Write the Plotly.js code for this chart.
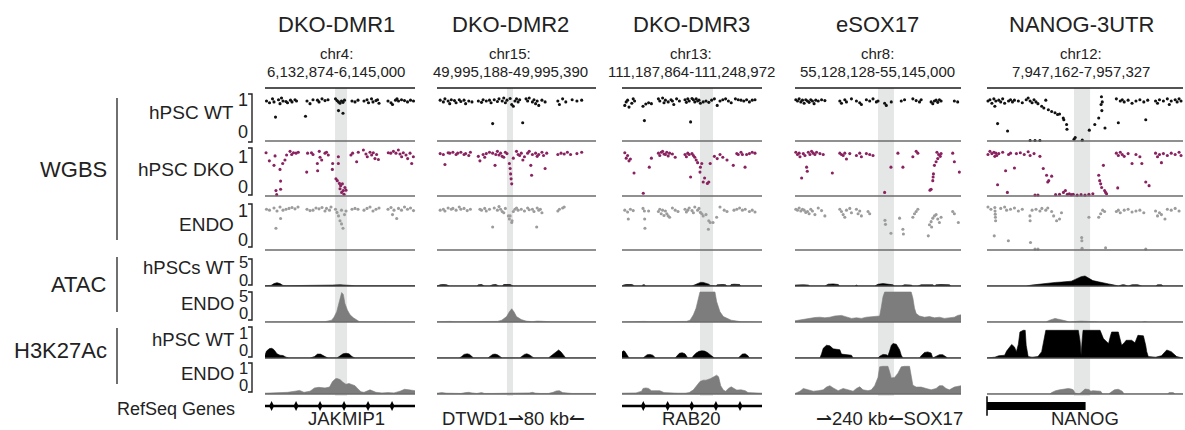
<!DOCTYPE html>
<html><head><meta charset="utf-8">
<script src="https://cdn.plot.ly/plotly-3.0.1.min.js"></script>
<style>html,body{margin:0;padding:0;background:#fff}</style>
</head><body><div id="chart" style="width:1185px;height:430px"></div>
<script>
// ---------- text ----------
const regions = ['DKO-DMR1','DKO-DMR2','DKO-DMR3','eSOX17','NANOG-3UTR'];
const chroms = ['chr4:','chr15:','chr13:','chr8:','chr12:'];
const coords = ['6,132,874-6,145,000','49,995,188-49,995,390','111,187,864-111,248,972','55,128,128-55,145,000','7,947,162-7,957,327'];
const geneNames = ['JAKMIP1','DTWD1\u21C080 kb\u21BC','RAB20','\u21C0240 kb\u21BCSOX17','NANOG'];
const trackLabels = ['hPSC WT','hPSC DKO','ENDO','hPSCs WT','ENDO','hPSC WT','ENDO'];
const groupLabels = ['WGBS','ATAC','H3K27Ac'];
const wgbsTicks = ['0','1'];
const atacTicks = ['0','5'];
const h3Ticks = ['0','1'];
// highlighted region (% of window)
const bandStart = [46.7,44,55.7,50,44.4];
const bandEnd = [54.7,47.8,65,59.6,52.6];

// ---------- WGBS methylation (x %, beta) ----------
const wt1 = [[1,0.9],[3,0.86],[5,0.95],[6,0.88],[9,0.93],[10,0.84],[11,0.97],[12,0.9],[14,0.89],[15,0.86],[17,0.92],[18,0.88],[20,0.93],[21,0.9],[7,0.53],[28,0.9],[30,0.84],[27,0.55],[32,0.93],[35,0.92],[36,0.88],[38,0.95],[40,0.91],[42,0.93],[47,0.95],[48,0.91],[49,0.88],[50,0.85],[51,0.9],[52,0.87],[53,0.92],[49,0.68],[52,0.62],[58,0.9],[60,0.88],[62,0.92],[66,0.9],[68,0.93],[69,0.86],[71,0.95],[72,0.88],[74,0.91],[75,0.93],[76,0.85],[82,0.9],[84,0.86],[85,0.82],[87,0.92],[88,0.95],[89,0.9],[91,0.93],[93,0.91],[95,0.88],[97,0.92],[99,0.9]];
const dko1 = [[0.7,0.94],[2.9,0.76],[6.7,0.87],[6,0.66],[10,0.57],[11.8,0.7],[10.4,0.31],[7.3,0.1],[10.4,0.13],[7.8,0.01],[13.3,0.78],[14.4,0.89],[16.7,0.97],[17.8,0.9],[19,0.94],[20.7,0.93],[22.2,0.95],[27.8,0.51],[28.4,0.93],[31,0.94],[32,0.9],[34.9,0.7],[35.1,0.54],[36.2,0.97],[36.7,0.84],[37.8,0.78],[40,0.93],[41,0.95],[42.2,0.89],[45.1,0.7],[44.9,0.57],[48.9,0.85],[48.9,0.7],[47.3,0.36],[48.2,0.32],[49.6,0.26],[50.4,0.21],[51.6,0.25],[50,0.14],[52.2,0.1],[53.3,0.17],[54,0.11],[51.1,0.06],[52.7,0.02],[57.3,0.89],[58.4,0.93],[61.1,0.74],[62.2,0.95],[65.6,1.0],[67.3,0.91],[68.2,0.85],[70,0.95],[71.1,0.89],[72.2,0.94],[73.3,0.81],[74.4,0.9],[75.6,0.79],[82.2,0.94],[83.8,0.93],[85.6,0.97],[87.3,0.93],[88.9,1.0],[90,0.91],[91.1,0.85],[92.2,0.94],[94,0.89],[95.1,0.81],[96.7,0.93],[97.8,0.7],[98.9,0.85]];
const endo1 = [[1,0.9],[3,0.88],[6,0.93],[8,0.86],[10,0.95],[12,0.88],[14,0.9],[16,0.92],[18,0.94],[20,0.91],[22,0.95],[7.3,0.47],[10.4,0.69],[28,0.9],[30,0.87],[32,0.88],[34,0.93],[36,0.91],[38,0.94],[40,0.86],[41,0.92],[43,0.88],[44,0.95],[47,0.9],[48,0.83],[49,0.75],[50,0.64],[51,0.57],[52,0.47],[53,0.78],[54,0.86],[51,0.88],[58,0.9],[60,0.92],[62,0.9],[66,0.88],[68,0.92],[70,0.95],[72,0.86],[74,0.9],[76,0.93],[82,0.9],[84,0.94],[85,0.78],[86,0.88],[87.8,0.69],[89,0.92],[91,0.88],[93,0.95],[95,0.9],[97,0.93],[99,0.87]];

const wt2 = [[2,0.92],[4,0.88],[5,0.95],[7,0.9],[8,0.84],[9,0.93],[11,0.91],[12,0.86],[14,0.93],[15,0.89],[17,0.92],[18,0.84],[20,0.9],[22,0.88],[26,0.9],[28,0.87],[29,0.93],[31,0.9],[33,0.92],[34,0.86],[35,0.38],[36,0.93],[38,0.89],[39,0.95],[41,0.9],[42,0.97],[43,0.86],[44,0.92],[46,0.96],[47,0.82],[48,0.78],[49,0.9],[50,0.95],[51,0.88],[52,0.93],[53.9,0.4],[56,0.95],[57,0.9],[58,0.97],[60,0.88],[61,0.93],[62,0.84],[63,0.9],[64,0.8],[66,0.92],[68,0.88],[76,0.9],[77,0.82],[79,0.95],[81,0.88],[85,0.93],[88,0.9],[91,0.92]];
const dko2 = [[2,0.92],[4,0.9],[5,0.68],[7,0.94],[8,0.93],[10,0.95],[12,0.9],[13,0.93],[15,0.95],[17,0.9],[18,0.92],[20,0.88],[21,0.95],[26,0.86],[27,0.76],[29,0.9],[30,0.84],[31,0.92],[33,0.95],[35,0.93],[36.5,0.66],[37,0.9],[38,0.97],[39,0.89],[40,0.93],[41,0.86],[42,0.84],[43,0.95],[44,0.92],[45.5,0.7],[46,0.59],[46.3,0.47],[46.6,0.36],[47,0.25],[48,0.82],[50,0.97],[51,0.9],[52,0.88],[53,0.93],[54,0.78],[55,0.85],[57,0.93],[58,0.97],[59,0.66],[59.5,0.44],[60,0.9],[62,0.93],[63,0.86],[64,0.9],[66,0.95],[67,0.88],[68,0.59],[69,0.93],[76,0.9],[78,0.93],[80,0.91],[82,0.95],[84,0.9],[88,0.92],[91,0.95]];
const endo2 = [[2,0.88],[4,0.9],[5,0.86],[7,0.93],[9,0.9],[10,0.92],[12,0.88],[14,0.95],[15,0.9],[17,0.92],[19,0.87],[21,0.9],[27,0.9],[28,0.88],[30,0.92],[31,0.86],[33,0.9],[35,0.5],[36,0.93],[38,0.88],[39,0.96],[40,0.9],[41,0.85],[42,0.82],[43,0.92],[44.9,0.75],[45.5,0.68],[46,0.75],[47,0.6],[47.2,0.64],[48,0.85],[49,0.9],[50,0.93],[51,0.88],[53,0.9],[55,0.86],[57,0.93],[58,0.89],[60,0.9],[61,0.85],[62.7,0.5],[63,0.93],[64,0.88],[65,0.9],[66,0.82],[76,0.86],[77,0.9],[79,0.93],[80,0.95]];

const wt3 = [[2,0.8],[3,0.88],[4,0.92],[5,0.76],[7,0.85],[8,0.95],[9,0.9],[15,0.78],[16,0.45],[17,0.83],[19,0.86],[21,0.84],[26,0.95],[27,0.9],[29,0.97],[30,0.86],[31,0.92],[33,0.88],[35,0.93],[36,0.9],[37,0.82],[39,0.95],[41,0.9],[45,0.93],[46,0.87],[47,0.95],[48,0.9],[49,0.42],[50,0.96],[51,0.93],[52,0.88],[53,0.95],[54,0.9],[55,0.92],[56,0.85],[58,0.88],[60,0.9],[62,0.87],[64,0.92],[66,0.95],[68,0.8],[70,0.9],[72,0.93],[74,0.95],[76,0.9],[78,0.86],[81,0.95],[83,0.93],[85,0.92],[87,0.9],[89,0.93],[91,0.88],[93,0.92],[95,0.93]];
const dko3 = [[2,0.94],[3,0.82],[4,0.88],[5,0.76],[6,0.8],[8.6,0.49],[15.2,0.04],[19.5,0.62],[21,0.82],[26,0.93],[27,0.88],[28,0.95],[29,0.97],[30,0.91],[31,0.9],[32,0.95],[33,0.87],[34,0.93],[36,0.91],[38,0.84],[45,0.9],[46,0.85],[47,0.93],[48,0.9],[49,0.4],[50,0.92],[51,0.88],[52,0.84],[53,0.78],[54,0.72],[55.7,0.51],[56,0.62],[57,0.7],[58,0.29],[59,0.38],[61,0.26],[62,0.29],[63,0.7],[66,0.86],[68,0.81],[70,0.9],[72,0.84],[75,0.78],[79.5,0.66],[82,0.92],[83,0.9],[85,0.95],[86,0.9],[87.9,0.62],[89,0.9],[91,0.92],[93,0.95],[95,0.93]];
const endo3 = [[2,0.88],[4,0.84],[4.5,0.68],[6,0.9],[8,0.87],[15,0.92],[16,0.86],[16.2,0.68],[16.4,0.47],[19,0.86],[26,0.85],[27,0.9],[28,0.8],[29,0.88],[30,0.76],[31,0.86],[32,0.8],[33,0.75],[34,0.72],[36,0.93],[38,0.88],[40,0.85],[45,0.9],[46,0.84],[47,0.88],[48,0.93],[50,0.87],[51,0.82],[52,0.95],[54,0.88],[55,0.92],[56,0.83],[57,0.8],[58,0.75],[60,0.78],[61.7,0.45],[62,0.64],[63,0.6],[65,0.6],[67.6,0.72],[70,0.95],[73,0.88],[75,0.85],[80,0.88],[82,0.9],[84,0.93],[86,0.88],[88,0.9],[91,0.85],[93,0.88],[95,0.84]];

const wt4 = [[0.5,0.93],[1.5,0.9],[2.5,0.95],[3.5,0.88],[4.5,0.92],[5.5,0.85],[6.5,0.93],[7.5,0.9],[8.5,0.87],[9.5,0.93],[10.5,0.9],[11.5,0.84],[12.5,0.92],[14,0.9],[16,0.93],[18,0.91],[27,0.9],[28,0.85],[30,0.93],[31,0.88],[34,0.95],[37,0.9],[39,0.86],[40,0.82],[43,0.93],[45,0.9],[47,0.95],[49,0.88],[50,0.9],[54,0.85],[55,0.8],[58,0.88],[64,0.9],[66,0.93],[71,0.95],[73,0.91],[75,0.88],[76,0.93],[82,0.88],[83,0.84],[84,0.9],[85,0.92],[86,0.87],[87,0.93],[88,0.9],[96,0.9],[98,0.88]];
const dko4 = [[0.5,0.95],[1.5,0.9],[2.5,0.93],[3,0.85],[4,0.38],[5,0.92],[6,0.88],[7,0.62],[7.4,0.53],[8,0.95],[9,0.9],[10,0.97],[11,0.93],[12,0.9],[13,0.95],[15,0.92],[17,0.9],[22.5,0.49],[27,0.93],[28,0.9],[29,0.88],[30,0.93],[31,0.8],[33,0.92],[37,0.88],[39,0.93],[40,0.85],[43,0.92],[45,0.9],[47,0.88],[54,0.06],[57.8,0.62],[62,0.93],[65,0.62],[71,0.85],[73,0.97],[74,0.93],[81.3,0.11],[82,0.13],[83,0.32],[83.2,0.4],[83.4,0.47],[84,0.66],[85,0.74],[86,0.81],[85.5,0.95],[86.5,0.9],[87.5,0.86],[88,0.92],[95,0.93],[96,0.74],[99,0.51]];
const endo4 = [[0.5,0.9],[1.5,0.88],[2.5,0.93],[3.5,0.86],[4.5,0.9],[5.5,0.88],[6.5,0.83],[7.5,0.85],[8.5,0.8],[9.5,0.9],[10.5,0.86],[12,0.78],[14,0.93],[16,0.87],[18,0.75],[27,0.9],[28,0.85],[29,0.78],[30,0.72],[31,0.88],[33,0.92],[34,0.82],[37,0.9],[38,0.8],[39,0.86],[40,0.75],[44,0.85],[45,0.8],[54.2,0.65],[54.5,0.56],[57.8,0.36],[63,0.7],[65,0.45],[65.3,0.34],[71,0.72],[72,0.8],[73,0.85],[74,0.9],[80.3,0.3],[81,0.55],[82,0.62],[82.3,0.5],[83,0.7],[84,0.75],[85,0.78],[86,0.68],[87,0.6],[88,0.72],[95,0.85],[96,0.8],[98.4,0.6]];

const wt5 = [[0.5,0.9],[1.5,0.93],[2.5,0.85],[3.5,0.95],[4,0.78],[4.5,0.9],[5.4,0.38],[6,0.92],[7,0.88],[8,0.95],[9,0.85],[10.5,0.21],[11,0.9],[12,0.93],[13,0.88],[14,0.92],[16,0.9],[18,0.86],[20,0.93],[21,0.97],[22,0.9],[23,0.86],[24,0.93],[25,0.88],[26,0.84],[27.9,0.78],[29,0.74],[30,0.92],[31.3,0.7],[33,0.66],[34.7,0.63],[36,0.59],[37,0.6],[38.9,0.51],[39.2,0.47],[40.6,0.36],[40.8,0.25],[22,-0.01],[24.5,-0.01],[27,-0.01],[44.4,0.02],[45,0.06],[48.6,0],[52.2,0.23],[55,0.36],[57,0.51],[58.2,0.82],[58.4,1.0],[58.6,0.68],[58.8,0.88],[60.2,0.28],[66,0.95],[67,0.4],[68,0.9],[69,0.93],[70,0.88],[72,0.92],[74,0.85],[76,0.9],[78,0.93],[80,0.88],[81,0.47],[82,0.92],[86,0.9],[87,0.85],[88,0.93],[90,0.9],[92,0.95],[93,0.82],[94,0.9],[96,0.93],[97,0.88],[98,0.95],[99,0.9]];
const dko5 = [[0.5,0.9],[1.5,0.97],[2.5,0.92],[3.5,0.95],[4,0.86],[4.5,0.93],[5,0.88],[5.4,0.23],[6,0.92],[8,0.95],[9.5,0.54],[10.4,0.06],[11,0.9],[12,0.93],[14,0.6],[15,0.92],[17,0.94],[19,0.9],[21,0.96],[22,0.88],[24,0.92],[24.5,0.0],[26,0.0],[27,0.86],[28.7,0.59],[30.4,0.44],[31,0.29],[31.5,0.32],[33,0.42],[35,0.01],[37,0.02],[39,0.06],[40,0.1],[41,0.02],[42,0.03],[43,0.01],[44,0.02],[46,0.0],[48,0.01],[50,0.0],[52,0.02],[54,0.03],[57,0.44],[57.5,0.32],[58,0.25],[58.5,0.17],[59.4,0.66],[60,0.1],[60.5,0.06],[61,0.03],[66,0.93],[66.7,0.16],[67,0.88],[68,0.95],[69,0.9],[70,0.86],[72,0.92],[74,0.7],[76,0.9],[78,0.85],[79,0.7],[81,0.29],[82.7,0.21],[86,0.93],[87,0.85],[88,0.9],[89,0.72],[90,0.92],[92,0.88],[94,0.93],[96,0.9],[98,0.95],[99,0.88]];
const endo5 = [[0.5,0.95],[2,0.9],[4,0.94],[4.1,0.86],[4.2,0.79],[4.3,0.72],[4.4,0.64],[3.7,0.3],[7,0.92],[9,0.95],[10,0.88],[10.9,0.19],[12,0.9],[14,0.93],[16,0.86],[18,0.9],[21.9,0.75],[22,0.64],[22.2,0.15],[23,0.88],[24.5,0],[26,0],[25,0.9],[27,0.86],[28,0.92],[30,0.88],[31,0.93],[33,0.85],[34,0.75],[35.5,0.64],[37,0.68],[38,0.82],[48.3,0.26],[48.4,0.19],[48.5,0.02],[52,0.72],[57,0.72],[58,0.8],[59,0.88],[60,0.85],[60.5,0.03],[66,0.85],[67,0.88],[68,0.82],[70,0.88],[72,0.9],[74,0.84],[76,0.86],[78,0.88],[80,0.82],[81,0],[86,0.86],[87,0.75],[88,0.82],[89,0.78],[90.8,0.68],[92,0.9],[94,0.88],[96,0.92],[98,0.86]];

// ---------- ATAC hPSC WT ----------
const atacWT_x1 = [0,4,6,8,10,12,14,20,40,45,50,55,60,100];
const atacWT_y1 = [0.05,0.1,0.4,0.55,0.4,0.1,0.05,0.05,0.05,0.15,0.2,0.15,0.05,0.05];
const atacWT_x2 = [0,2,4,6,8,25,26,28,30,33,35,37,39,41,42,44,46,48,50,100];
const atacWT_y2 = [0,0.2,0.25,0.2,0,0,0.2,0.25,0,0,0.2,0.25,0,0,0.25,0.3,0.25,0,0,0];
const atacWT_x3 = [0,1,3,5,7,8,9,14,15,16,17,50,52,54,56,58,60,62,63,65,67,68,70,72,74,75,77,78,80,82,84,85,87,100];
const atacWT_y3 = [0,0.15,0.25,0.3,0.25,0.15,0,0,0.2,0.2,0,0,0.2,0.45,0.6,0.6,0.5,0.3,0.1,0,0,0.2,0.25,0.25,0.2,0,0,0.25,0.3,0.3,0.25,0,0,0];
const atacWT_x4 = [0,2,5,8,9,18,20,23,26,27,36,37,38,48,50,53,56,59,60,64,66,68,70,71,74,76,80,83,84,85,88,91,93,94,100];
const atacWT_y4 = [0.15,0.2,0.2,0.15,0,0,0.3,0.35,0.25,0,0,0.15,0,0,0.3,0.4,0.35,0.2,0,0,0.2,0.2,0.15,0,0,0.2,0.25,0.2,0,0.2,0.25,0.25,0.2,0,0];
const atacWT_x5 = [0,20,22.8,25,27.9,30,33,35,38,40,43,45,46.6,48,50,51,52.6,54,56.8,59,62,65,67,69,70,72,74,76,77,79,86,87,89,90,100];
const atacWT_y5 = [0,0,0.15,0.25,0.3,0.4,0.55,0.6,0.65,0.7,0.8,1.1,1.4,1.55,1.67,1.5,1.1,0.9,0.7,0.5,0.35,0.15,0,0.2,0.2,0,0.2,0.22,0.2,0,0,0.2,0.2,0,0];
// ---------- ATAC ENDO ----------
const atacEN_x1 = [0,40,44.4,46,47.8,49,50,51.1,52.2,53.3,54.9,56.7,58.9,61.1,63,100];
const atacEN_y1 = [0.02,0.05,0.3,0.8,1.7,3,4.2,4.9,4.6,3.1,2,1.2,0.7,0.3,0.05,0.02];
const atacEN_x2 = [0,5,8,12,20,30,38,40.7,43.8,45.5,47,48.4,50,53,56,60,63,66,69,72,100];
const atacEN_y2 = [0.05,0.15,0.1,0.05,0.1,0.05,0.1,0.3,0.9,1.7,2.2,1.7,0.9,0.4,0.15,0.05,0.15,0.12,0.1,0.03,0.02];
const atacEN_x3 = [0,4,6,8,12,14,16,20,30,40,46,48.6,51,52.9,54.5,55.7,60,66.4,67.6,70,72.4,74.8,78,82,85,100];
const atacEN_y3 = [0.02,0.05,0.1,0.05,0.15,0.2,0.1,0.05,0.03,0.05,0.1,0.3,1.2,2.3,3.9,5,5,5,3.4,1.7,0.9,0.6,0.3,0.15,0.05,0.02];
const atacEN_x4 = [0,3,6,9,12,15,18,21,24,28,31,34,37,40,43,46,49,51,52,53,54,58,62,66,70,71,72,73,75,78,81,84,87,90,93,96,98,100];
const atacEN_y4 = [0.2,0.35,0.5,0.6,0.75,0.8,0.7,0.8,1.0,1.1,0.8,0.6,0.7,0.6,0.8,0.9,0.9,1.0,2.5,4.2,5,5,5,5,5,4,2.3,1.4,1.0,0.8,0.9,0.7,0.8,0.6,0.7,0.8,1.1,1.2];
const atacEN_x5 = [0,30,32,34.7,36,38,40,42,45,48,50,52.6,54,56,58,79,80.6,82,100];
const atacEN_y5 = [0,0,0.3,0.6,0.5,0.4,0.2,0,0.1,0.15,0.12,0.1,0.15,0.1,0,0,0.1,0,0];
// ---------- H3K27Ac hPSC WT ----------
const h3WT_x1 = [0,1,3,4.5,6,8,10,12,14,16,30,33,35,37,40,42,48,50,52,54,56,58,60,100];
const h3WT_y1 = [0.1,0.25,0.34,0.35,0.3,0.15,0.1,0.09,0.03,0,0,0.05,0.14,0.14,0.05,0,0,0.06,0.15,0.17,0.15,0.05,0,0];
const h3WT_x2 = [0,14,15.5,17,19,20.5,22,23,32,33,35,36.5,38,40,41,52,53,55,56.5,58,60,61,70,71,73,75,76.5,78,80,81,100];
const h3WT_y2 = [0,0,0.05,0.13,0.15,0.13,0.05,0,0,0.05,0.13,0.14,0.12,0.04,0,0,0.05,0.13,0.15,0.12,0.04,0,0,0.05,0.15,0.25,0.29,0.22,0.08,0,0];
const h3WT_x3 = [0,1,2,3,4,5,15,16,18,20,22,24,38,39,41,43,45,47,50,51,53,55,57,59,61,63,65,66,83,84,86,88,90,91,100];
const h3WT_y3 = [0.22,0.26,0.24,0.15,0.05,0,0,0.05,0.12,0.13,0.1,0,0,0.06,0.17,0.19,0.15,0,0,0.08,0.18,0.24,0.26,0.25,0.2,0.12,0.05,0,0,0.05,0.14,0.15,0.08,0,0];
const h3WT_x4 = [0,15,16,17,19,21,23,25,27,28,30,32,34,35,50,51,53,55,56,57,58,59,61,63,64,65,75,76,78,80,82,83,85,87,89,91,92,100];
const h3WT_y4 = [0,0,0.15,0.35,0.46,0.44,0.33,0.31,0.3,0.14,0.13,0.12,0.1,0,0,0.06,0.13,0.12,0.08,0.25,0.45,0.52,0.5,0.3,0.1,0,0,0.08,0.2,0.22,0.18,0,0.06,0.12,0.12,0.06,0,0];
const h3WT_x5 = [0,4,6,9,10,11,12.6,14,15,16,16.8,18.5,19.5,20,21,23,26,27.9,29,30,35,40,46.6,47.5,48,48.5,49,53,57.7,59.4,62,63,63.6,67,68.7,70,71,73.8,75.5,77,79.8,81,81.5,82.3,86,89,91.7,94,96,96.8,100];
const h3WT_y5 = [0,0.03,0.08,0.1,0.25,0.35,0.49,0.4,0.23,0.5,0.94,1,1,0.46,0.05,0.03,0.05,0.23,0.6,1,1,1,1,0.6,0.1,0.6,1,1,1,0.7,0.52,0.8,0.94,0.94,0.46,0.55,0.64,0.64,0.55,0.82,0.8,0.45,0.23,0.05,0.03,0.08,0.29,0.23,0.1,0.05,0];
// ---------- H3K27Ac ENDO ----------
const h3EN_x1 = [0,5,10,15,20,23,26,30,33,36,40,43,45,47,48,50,52,54,56,58,60,62,64,66,70,74,78,82,86,90,93,96,100];
const h3EN_y1 = [0.03,0.04,0.03,0.06,0.1,0.13,0.06,0.1,0.22,0.24,0.22,0.25,0.45,0.55,0.56,0.52,0.42,0.35,0.38,0.33,0.3,0.18,0.08,0.06,0.15,0.06,0.04,0.05,0.04,0.1,0.17,0.15,0.12];
const h3EN_x2 = [0,3,6,10,15,18,20,22,25,28,30,35,40,45,48,50,55,58,60,62,65,70,73,75,77,79,85,100];
const h3EN_y2 = [0.03,0.05,0.03,0.02,0.02,0.05,0.06,0.04,0.02,0.05,0.02,0.02,0.02,0.03,0.04,0.02,0.02,0.04,0.06,0.03,0.02,0.02,0.06,0.11,0.12,0.05,0.02,0.02];
const h3EN_x3 = [0,5,10,14,15,17,19,21,23,25,27,30,35,40,45,48,51,53,55.7,58,60,63,65,67.6,69,70.5,72.4,74,76,78,80,82,85,88,90,95,100];
const h3EN_y3 = [0.03,0.03,0.04,0.1,0.2,0.22,0.2,0.12,0.12,0.1,0.12,0.05,0.03,0.03,0.03,0.05,0.15,0.28,0.45,0.5,0.5,0.55,0.62,0.68,0.62,0.3,0.14,0.1,0.2,0.26,0.2,0.14,0.15,0.12,0.05,0.03,0.03];
const h3EN_x4 = [0,3,5,8,11,14,17,19,21,23,26,29,32,35,37,39,41,44,46,48,50,51,53,56,57,58,60,62,64,66,69,70,71,73,76,79,82,85,87,89,91,93,96,100];
const h3EN_y4 = [0.02,0.1,0.2,0.15,0.1,0.12,0.15,0.25,0.3,0.22,0.12,0.2,0.15,0.1,0.2,0.26,0.15,0.12,0.15,0.3,0.6,0.98,1.0,1.0,0.8,0.58,0.6,0.75,0.98,1.0,1.0,0.7,0.32,0.25,0.25,0.2,0.15,0.2,0.3,0.3,0.2,0.15,0.25,0.3];
const h3EN_x5 = [0,32,33,35,37,39,41.5,43,44,45,47,48,50,52,53,54,56,58,59,62,63,65,67,69,70,92,93,95,96,100];
const h3EN_y5 = [0,0,0.05,0.12,0.15,0.18,0.2,0.18,0.15,0.03,0,0.05,0.18,0.16,0.1,0.12,0.12,0.1,0,0,0.05,0.15,0.17,0.1,0,0,0.05,0.05,0,0];

// ---------- RefSeq genes ----------
const geneStart = [0, null, 0, null, 0];
const geneEnd = [100, null, 100, null, 50.3];
const geneArrows1 = [4.4,20.7,36.7,52.7,68.7,84.7];
const geneArrows3 = [15.2,32.6,49.8,67.1,84.3];

// ---------- layout geometry (pixels) ----------
const W = 1185, H = 430;
const X = p => p / W, Y = p => 1 - p / H;
const colPx = [[265,415],[437,596],[622,762],[795,961],[987,1183]];
const rowPx = [[88,141],[141,196],[196,250],[250,286],[286,322],[322,358],[358,394],[397,415]];
const yRanges = [[-0.02,1.2],[-0.02,1.2],[-0.02,1.2],[0,6],[0,6],[0,1.3],[0,1.3],[-1,1]];
const titleX = [336,510,691,877,1081];
const geneX = [346,513,691,889,1085];

const FONT = 'Liberation Sans, Arial, sans-serif';
const TXT = '#222';
const C_WT = '#111', C_DKO = '#8a2260', C_ENDO = '#9c9c9c';
const A_WT = '#000', A_EN = '#7d7d7d';

const xId = c => c === 0 ? 'x' : 'x' + (c + 1);
const yId = r => r === 0 ? 'y' : 'y' + (r + 1);

const traces = [];
const wgbs = [[wt1,dko1,endo1],[wt2,dko2,endo2],[wt3,dko3,endo3],[wt4,dko4,endo4],[wt5,dko5,endo5]];
const wgbsColors = [C_WT, C_DKO, C_ENDO];
for (let c = 0; c < 5; c++) {
  for (let r = 0; r < 3; r++) {
    const arr = wgbs[c][r];
    traces.push({type:'scatter', mode:'markers', x: arr.map(p=>p[0]), y: arr.map(p=>p[1]),
      xaxis: xId(c), yaxis: yId(r), cliponaxis: false, hoverinfo:'skip',
      marker:{size:3.1, color: wgbsColors[r], line:{width:0}}});
  }
}
const areaX = [
  [atacWT_x1,atacWT_x2,atacWT_x3,atacWT_x4,atacWT_x5],
  [atacEN_x1,atacEN_x2,atacEN_x3,atacEN_x4,atacEN_x5],
  [h3WT_x1,h3WT_x2,h3WT_x3,h3WT_x4,h3WT_x5],
  [h3EN_x1,h3EN_x2,h3EN_x3,h3EN_x4,h3EN_x5]];
const areaY = [
  [atacWT_y1,atacWT_y2,atacWT_y3,atacWT_y4,atacWT_y5],
  [atacEN_y1,atacEN_y2,atacEN_y3,atacEN_y4,atacEN_y5],
  [h3WT_y1,h3WT_y2,h3WT_y3,h3WT_y4,h3WT_y5],
  [h3EN_y1,h3EN_y2,h3EN_y3,h3EN_y4,h3EN_y5]];
const areaColors = [A_WT, A_EN, A_WT, A_EN];
for (let k = 0; k < 4; k++) {
  for (let c = 0; c < 5; c++) {
    traces.push({type:'scatter', mode:'lines', x: areaX[k][c], y: areaY[k][c],
      xaxis: xId(c), yaxis: yId(3 + k), fill:'tozeroy', hoverinfo:'skip',
      fillcolor: areaColors[k], line:{color: areaColors[k], width:0.6}});
  }
}
// genes
for (let c = 0; c < 5; c++) {
  if (geneStart[c] === null) continue;
  const thick = c === 4;
  traces.push({type:'scatter', mode:'lines', x:[geneStart[c], geneEnd[c]], y:[0,0],
    xaxis: xId(c), yaxis: yId(7), hoverinfo:'skip', cliponaxis:false,
    line:{color:'#000', width: thick ? 8 : 2.6}});
}
[[0, geneArrows1],[2, geneArrows3]].forEach(([c, arr]) => {
  traces.push({type:'scatter', mode:'markers', x: arr, y: arr.map(()=>0),
    xaxis: xId(c), yaxis: yId(7), hoverinfo:'skip', cliponaxis:false,
    marker:{symbol:'diamond-tall', size:7, color:'#000'}});
});
traces.push({type:'scatter', mode:'markers', x:[geneStart[4]], y:[0], xaxis: xId(4), yaxis: yId(7),
  hoverinfo:'skip', cliponaxis:false, marker:{symbol:'line-ns', size:14, line:{width:1.5, color:'#000'}}});

const layout = {
  width: W, height: H, autosize: false,
  margin: {l:0, r:0, t:0, b:0},
  paper_bgcolor: '#fff', plot_bgcolor: 'rgba(0,0,0,0)',
  showlegend: false,
  font: {family: FONT, color: TXT},
  shapes: [], annotations: []
};
for (let c = 0; c < 5; c++) {
  layout[c === 0 ? 'xaxis' : 'xaxis' + (c + 1)] = {domain:[X(colPx[c][0]), X(colPx[c][1])],
    range:[0,100], visible:false, fixedrange:true, anchor:'y8'};
}
for (let r = 0; r < 8; r++) {
  layout[r === 0 ? 'yaxis' : 'yaxis' + (r + 1)] = {domain:[Y(rowPx[r][1]), Y(rowPx[r][0])],
    range: yRanges[r], visible:false, fixedrange:true, anchor:'x'};
}
// highlight bands
for (let c = 0; c < 5; c++) {
  layout.shapes.push({type:'rect', layer:'below', xref: xId(c), yref:'paper',
    x0: bandStart[c], x1: bandEnd[c], y0: Y(396), y1: Y(88),
    fillcolor:'#e5e7e6', line:{width:0}});
}
// track separators and top lines
for (let c = 0; c < 5; c++) {
  layout.shapes.push({type:'line', xref: xId(c) + ' domain', yref: yId(0) + ' domain',
    x0:0, x1:1, y0:1, y1:1, line:{color:'#1a1a1a', width:1.6}});
  for (let r = 0; r < 7; r++) {
    layout.shapes.push({type:'line', xref: xId(c) + ' domain', yref: yId(r) + ' domain',
      x0:0, x1:1, y0:0, y1:0, line:{color: r >= 3 && r % 2 === 1 ? '#444' : '#6b6b6b', width:1.6}});
  }
}
// group bars
[[98,240],[257,312],[328,384]].forEach(([a,b]) => {
  layout.shapes.push({type:'line', xref:'paper', yref:'paper', x0:X(117), x1:X(117), y0:Y(a), y1:Y(b),
    line:{color:'#333', width:1.4}});
});
// scale brackets
const brackets = [[94,142],[148,195],[204,247],[259,285],[292,320],[327,357],[363,392]];
const tickPos = [[100,132],[157,187],[211,240],[262,280],[296,313],[333,350],[368,385]];
const tickText = [wgbsTicks,wgbsTicks,wgbsTicks,atacTicks,atacTicks,h3Ticks,h3Ticks];
for (let r = 0; r < 7; r++) {
  const [a,b] = brackets[r];
  const fs = r < 3 ? 18 : 16.5;
  layout.shapes.push({type:'path', xref:'paper', yref:'paper',
    path:`M ${X(248)} ${Y(a)} L ${X(252)} ${Y(a)} L ${X(252)} ${Y(b)} L ${X(248)} ${Y(b)}`,
    line:{color:'#222', width:1.4}});
  layout.annotations.push({xref:'paper', yref:'paper', x:X(249), y:Y(tickPos[r][0]), xanchor:'right', yanchor:'middle',
    text: tickText[r][1], showarrow:false, borderpad:0, font:{size:fs, family:FONT, color:TXT}});
  layout.annotations.push({xref:'paper', yref:'paper', x:X(249), y:Y(tickPos[r][1]), xanchor:'right', yanchor:'middle',
    text: tickText[r][0], showarrow:false, borderpad:0, font:{size:fs, family:FONT, color:TXT}});
}
// track labels
const trackY = [112,169,224,267,303,339,373];
for (let r = 0; r < 7; r++) {
  layout.annotations.push({xref:'paper', yref:'paper', x:X(235), y:Y(trackY[r]), xanchor:'right', yanchor:'middle',
    text: trackLabels[r], showarrow:false, borderpad:0, font:{size: r < 3 ? 19 : 18.5, family:FONT, color:TXT}});
}
layout.annotations.push({xref:'paper', yref:'paper', x:X(236), y:Y(409), xanchor:'right', yanchor:'middle',
  text:'RefSeq Genes', showarrow:false, borderpad:0, font:{size:18, family:FONT, color:TXT}});
// group labels
const groupY = [169,284,350];
for (let g = 0; g < 3; g++) {
  layout.annotations.push({xref:'paper', yref:'paper', x:X(109), y:Y(groupY[g]), xanchor:'right', yanchor:'middle',
    text: groupLabels[g], showarrow:false, font:{size:22, family:FONT, color:TXT}});
}
// column titles
for (let c = 0; c < 5; c++) {
  layout.annotations.push({xref:'paper', yref:'paper', x:X(titleX[c]), y:Y(25), xanchor:'center', yanchor:'middle',
    text: regions[c], showarrow:false, font:{size:22, family:FONT, color:TXT}});
  layout.annotations.push({xref:'paper', yref:'paper', x:X(titleX[c]), y:Y(54), xanchor:'center', yanchor:'middle',
    text: chroms[c], showarrow:false, font:{size:15, family:FONT, color:TXT}});
  layout.annotations.push({xref:'paper', yref:'paper', x:X(titleX[c]), y:Y(72), xanchor:'center', yanchor:'middle',
    text: coords[c], showarrow:false, font:{size:15, family:FONT, color:TXT}});
  layout.annotations.push({xref:'paper', yref:'paper', x:X(geneX[c]), y:Y(430), xanchor:'center', yanchor:'bottom',
    text: geneNames[c], showarrow:false, borderpad:0, font:{size:18.5, family:FONT, color:TXT}});
}

Plotly.newPlot('chart', traces, layout, {displayModeBar:false, staticPlot:true});
</script></body></html>
